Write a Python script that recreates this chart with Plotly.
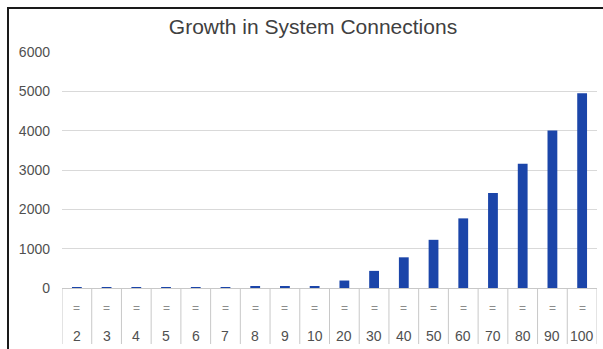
import plotly.graph_objects as go

categories = [2, 3, 4, 5, 6, 7, 8, 9, 10, 20, 30, 40, 50, 60, 70, 80, 90, 100]
connections = [1, 3, 6, 10, 15, 21, 28, 36, 45, 190, 435, 780, 1225, 1770, 2415, 3160, 4005, 4950]
row_symbol = "="
title_text = "Growth in System Connections"
y_ticks = [0, 1000, 2000, 3000, 4000, 5000, 6000]

FONT = "Liberation Sans"
cat_labels = [str(c) for c in categories]

fig = go.Figure(go.Bar(x=cat_labels, y=connections, marker=dict(color="#1B45A9", line=dict(width=0)),
                       width=0.33))

W, H = 603, 349
L, R, T, B = 62, 6, 52, 61
ph = H - T - B

def py(pix):
    return (H - B - pix) / ph

shapes = []
for i in range(len(categories) + 1):
    shapes.append(dict(type="line", xref="x", yref="paper", x0=i - 0.5, x1=i - 0.5,
                       y0=0, y1=py(344), line=dict(color="#C8C8C8", width=1)))
# outer frame
shapes.append(dict(type="rect", xref="paper", yref="paper",
                   x0=(8 - L) / (W - L - R), x1=1.2, y0=-0.6, y1=py(8),
                   line=dict(color="#1a1a1a", width=2)))

annotations = []
for i, c in enumerate(cat_labels):
    annotations.append(dict(x=i, y=py(308), xref="x", yref="paper", text=row_symbol,
                            showarrow=False, font=dict(family=FONT, size=12, color="#8c8c8c"),
                            xanchor="center", yanchor="middle"))
    annotations.append(dict(x=i, y=py(336), xref="x", yref="paper", text=c,
                            showarrow=False, font=dict(family=FONT, size=14, color="#505050"),
                            xanchor="center", yanchor="middle"))

fig.update_layout(
    width=W, height=H,
    margin=dict(l=L, r=R, t=T, b=B),
    paper_bgcolor="white", plot_bgcolor="white",
    showlegend=False,
    title=dict(text=title_text, xref="container", yref="container", x=313 / W, y=1 - 27 / H,
               xanchor="center", yanchor="middle",
               font=dict(family=FONT, size=21, color="#404040")),
    xaxis=dict(type="category", showticklabels=False, showgrid=False, showline=True,
               linecolor="#C8C8C8", linewidth=1, ticks="", range=[-0.5, len(categories) - 0.5],
               fixedrange=True),
    yaxis=dict(range=[0, 6000], tickvals=y_ticks, showgrid=True, gridcolor="#D9D9D9", gridwidth=1,
               zeroline=False, showline=False, ticks="", ticklabelstandoff=11,
               tickfont=dict(family=FONT, size=14, color="#505050")),
    shapes=shapes,
    annotations=annotations,
)

fig.write_html("out.html")
